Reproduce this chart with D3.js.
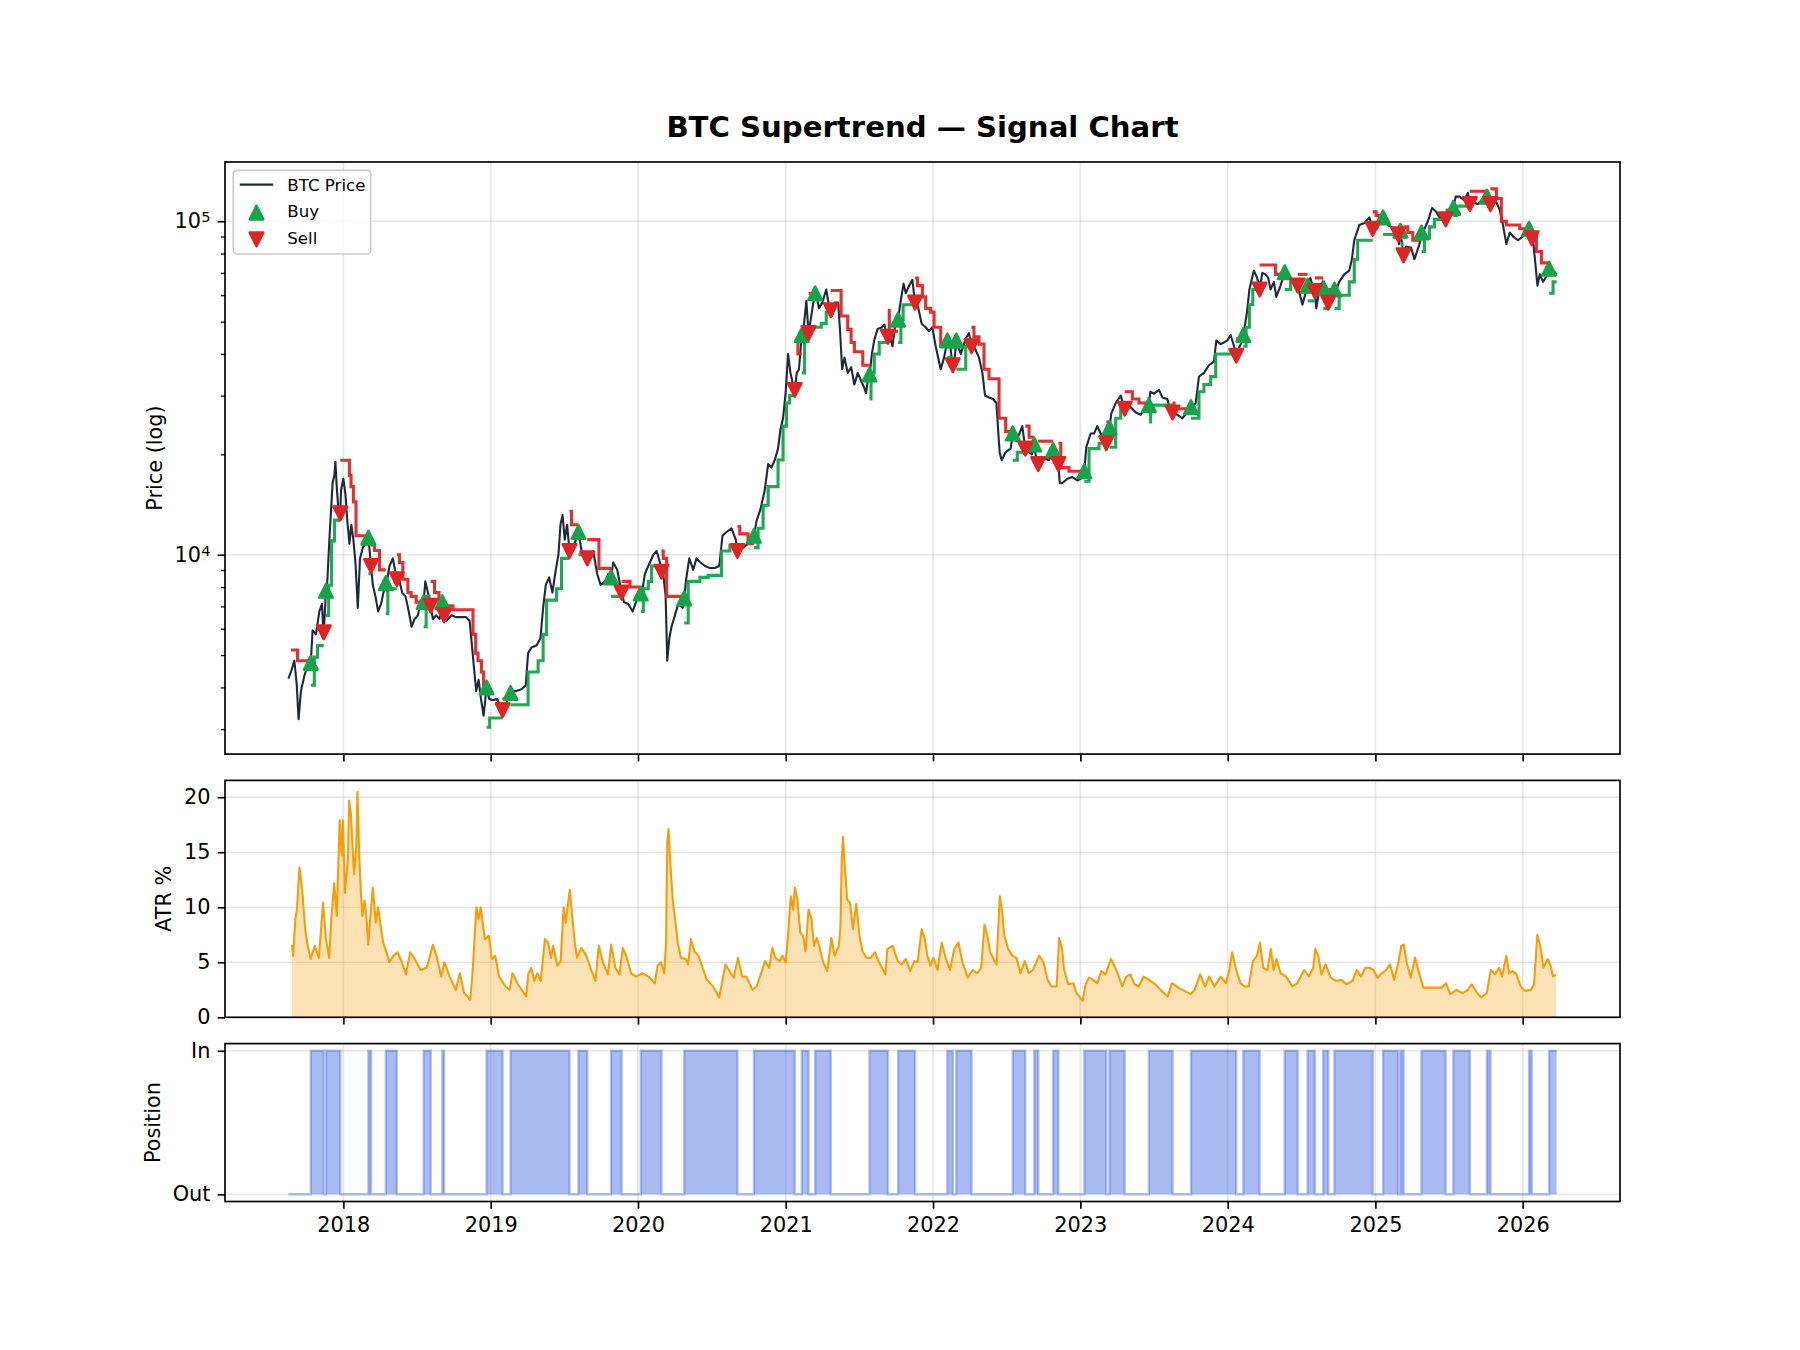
<!DOCTYPE html>
<html>
<head>
<meta charset="utf-8">
<title>BTC Supertrend — Signal Chart</title>
<script src="https://cdn.jsdelivr.net/npm/d3@7/dist/d3.min.js"></script>
<style>
  body { margin: 0; background: #fff; }
  svg { display: block; }
</style>
</head>
<body>
<div id="chart"></div>
<script>
// ---- values (dates as decimal years) ----

// daily close, sampled
const priceT = [
  2017.627, 2017.644, 2017.667, 2017.683, 2017.696, 2017.712, 2017.735, 2017.757, 2017.791, 2017.814,
  2017.837, 2017.855, 2017.864, 2017.89, 2017.905, 2017.927, 2017.939, 2017.946, 2017.955, 2017.968,
  2017.984, 2018.0, 2018.014, 2018.027, 2018.041, 2018.054, 2018.068, 2018.082, 2018.098, 2018.113,
  2018.132, 2018.15, 2018.2, 2018.218, 2018.236, 2018.256, 2018.272, 2018.3, 2018.313, 2018.336,
  2018.376, 2018.399, 2018.422, 2018.444, 2018.463, 2018.483, 2018.506, 2018.528, 2018.556, 2018.574,
  2018.608, 2018.63, 2018.653, 2018.698, 2018.732, 2018.766, 2018.8, 2018.834, 2018.857, 2018.873,
  2018.887, 2018.902, 2018.918, 2018.934, 2018.952, 2018.989, 2019.016, 2019.043, 2019.06, 2019.107,
  2019.16, 2019.175, 2019.209, 2019.238, 2019.254, 2019.277, 2019.311, 2019.338, 2019.356, 2019.374,
  2019.397, 2019.419, 2019.442, 2019.46, 2019.474, 2019.488, 2019.503, 2019.519, 2019.56, 2019.617,
  2019.639, 2019.696, 2019.723, 2019.746, 2019.776, 2019.8, 2019.832, 2019.859, 2019.905, 2019.934,
  2019.964, 2019.991, 2020.035, 2020.047, 2020.07, 2020.104, 2020.126, 2020.149, 2020.171, 2020.187,
  2020.198, 2020.212, 2020.227, 2020.25, 2020.273, 2020.302, 2020.324, 2020.347, 2020.374, 2020.396,
  2020.423, 2020.453, 2020.486, 2020.52, 2020.55, 2020.572, 2020.599, 2020.633, 2020.662, 2020.712,
  2020.745, 2020.77, 2020.802, 2020.829, 2020.858, 2020.881, 2020.903, 2020.926, 2020.948, 2020.964,
  2020.982, 2021.0, 2021.016, 2021.032, 2021.05, 2021.075, 2021.09, 2021.122, 2021.14, 2021.17,
  2021.185, 2021.212, 2021.225, 2021.248, 2021.275, 2021.297, 2021.315, 2021.333, 2021.356, 2021.369,
  2021.383, 2021.399, 2021.421, 2021.444, 2021.466, 2021.489, 2021.511, 2021.534, 2021.545, 2021.556,
  2021.585, 2021.601, 2021.624, 2021.653, 2021.67, 2021.685, 2021.71, 2021.725, 2021.748, 2021.776,
  2021.8, 2021.815, 2021.838, 2021.86, 2021.87, 2021.895, 2021.923, 2021.95, 2021.973, 2021.995,
  2022.018, 2022.052, 2022.075, 2022.115, 2022.145, 2022.188, 2022.222, 2022.244, 2022.278, 2022.312,
  2022.335, 2022.353, 2022.38, 2022.407, 2022.43, 2022.452, 2022.466, 2022.493, 2022.527, 2022.566,
  2022.606, 2022.652, 2022.672, 2022.7, 2022.753, 2022.787, 2022.83, 2022.86, 2022.878, 2022.912,
  2022.946, 2022.98, 2023.002, 2023.04, 2023.07, 2023.093, 2023.115, 2023.138, 2023.16, 2023.19,
  2023.21, 2023.24, 2023.274, 2023.32, 2023.342, 2023.376, 2023.41, 2023.443, 2023.475, 2023.5,
  2023.534, 2023.557, 2023.59, 2023.613, 2023.658, 2023.692, 2023.726, 2023.783, 2023.805, 2023.839,
  2023.873, 2023.907, 2023.923, 2023.952, 2023.975, 2023.998, 2024.02, 2024.043, 2024.075, 2024.09,
  2024.131, 2024.147, 2024.177, 2024.2, 2024.235, 2024.255, 2024.275, 2024.29, 2024.313, 2024.329,
  2024.358, 2024.415, 2024.449, 2024.506, 2024.56, 2024.574, 2024.6, 2024.619, 2024.66, 2024.7,
  2024.74, 2024.755, 2024.789, 2024.823, 2024.841, 2024.857, 2024.891, 2024.925, 2024.959, 2025.01,
  2025.027, 2025.07, 2025.084, 2025.107, 2025.129, 2025.16, 2025.18, 2025.209, 2025.243, 2025.265,
  2025.299, 2025.333, 2025.356, 2025.385, 2025.413, 2025.435, 2025.455, 2025.503, 2025.545, 2025.571,
  2025.605, 2025.628, 2025.662, 2025.696, 2025.73, 2025.765, 2025.798, 2025.821, 2025.844, 2025.866,
  2025.889, 2025.912, 2025.934, 2025.968, 2026.002, 2026.025, 2026.07, 2026.088, 2026.1, 2026.116,
  2026.138, 2026.161, 2026.195, 2026.218, 2026.23
];
const priceV = [
  4250, 4450, 4810, 4110, 3210, 3900, 4330, 4680, 5930, 5770,
  6760, 7120, 5930, 8110, 11100, 16400, 17300, 19000, 16000, 13300,
  15600, 16900, 15200, 12600, 10800, 12300, 11100, 9480, 6930, 9750,
  10500, 10800, 8110, 7500, 6760, 7120, 7700, 8550, 9250, 9750,
  8550, 7700, 7500, 6760, 6080, 6410, 6580, 7310, 8320, 7700,
  6410, 6580, 6410, 6330, 6580, 6500, 6500, 6500, 6330, 5340,
  4560, 3900, 4220, 3700, 3290, 3700, 3660, 3700, 3550, 3600,
  3900, 3900, 3950, 4060, 5070, 5270, 5340, 5620, 6930, 8110,
  8550, 7700, 9010, 10000, 12330, 13150, 11100, 12300, 10500, 10260,
  10000, 10260, 8770, 8110, 8320, 8770, 9480, 9010, 7210, 7120,
  6760, 7310, 8110, 8770, 9250, 10000, 10260, 9480, 8770, 7500,
  4810, 5620, 6080, 6580, 7120, 6930, 8320, 9750, 9010, 9750,
  9480, 9250, 9120, 9120, 9250, 11400, 11700, 12000, 11100, 10500,
  10800, 11100, 12600, 13700, 15600, 18700, 18250, 19230, 20800, 23700,
  25650, 30800, 40000, 35100, 32400, 35100, 36000, 48100, 57700, 50700,
  56200, 59300, 54800, 57000, 62400, 54800, 52000, 57000, 57000, 46800,
  36000, 39000, 35100, 36500, 32400, 35100, 33300, 31600, 30500, 33000,
  40000, 44000, 47500, 48100, 49000, 45500, 44500, 42200, 50700, 56000,
  65000, 60800, 64100, 66700, 61000, 56200, 49300, 48100, 46800, 48100,
  42200, 36000, 39000, 42500, 38000, 40000, 44500, 46200, 42200, 39000,
  35100, 30000, 29600, 29300, 28500, 20300, 19200, 20300, 20800, 21900,
  24300, 20300, 20000, 19500, 19500, 19200, 20300, 16400, 16400, 16900,
  17100, 16700, 16900, 21000, 23100, 23100, 24300, 23100, 22400, 22000,
  26500, 28500, 30000, 28500, 27700, 26700, 26300, 27700, 30800, 30400,
  31200, 29600, 29300, 27000, 26300, 25650, 26700, 28500, 34200, 35100,
  37000, 38000, 43900, 42800, 43300, 43900, 45600, 42200, 41600, 43000,
  53400, 62400, 71100, 67600, 70000, 69300, 67600, 62400, 65800, 59300,
  64100, 68400, 65800, 56200, 67600, 64100, 54800, 61700, 59000, 60000,
  63000, 65800, 69300, 71100, 76900, 87700, 97400, 98700, 102700, 95000,
  98700, 102000, 97400, 96200, 94900, 85400, 86000, 84000, 83200, 76900,
  85400, 94900, 100000, 109600, 106700, 102700, 105400, 108200, 118500, 118500,
  115500, 121700, 114000, 112500, 117000, 123000, 114000, 114000, 108200, 97400,
  85400, 92500, 90100, 87700, 90100, 94900, 87700, 73100, 64100, 69300,
  65800, 68400, 71100, 70300, 69300
];

// supertrend band, step points
const stT = [
  2017.644, 2017.689, 2017.779, 2017.803, 2017.825, 2017.867, 2017.882, 2017.9, 2017.92, 2017.94,
  2017.979, 2018.041, 2018.052, 2018.068, 2018.086, 2018.17, 2018.188, 2018.211, 2018.245, 2018.288,
  2018.302, 2018.363, 2018.381, 2018.404, 2018.438, 2018.46, 2018.494, 2018.545, 2018.562, 2018.593,
  2018.619, 2018.649, 2018.672, 2018.684, 2018.744, 2018.88, 2018.898, 2018.914, 2018.937, 2018.952,
  2018.972, 2018.993, 2019.081, 2019.135, 2019.254, 2019.322, 2019.356, 2019.379, 2019.447, 2019.481,
  2019.535, 2019.549, 2019.596, 2019.656, 2019.735, 2019.817, 2019.889, 2019.946, 2020.019, 2020.036,
  2020.07, 2020.092, 2020.159, 2020.171, 2020.194, 2020.313, 2020.34, 2020.419, 2020.475, 2020.565,
  2020.622, 2020.673, 2020.689, 2020.745, 2020.785, 2020.813, 2020.847, 2020.881, 2020.948, 2020.982,
  2021.005, 2021.027, 2021.061, 2021.083, 2021.109, 2021.128, 2021.155, 2021.2, 2021.241, 2021.275,
  2021.306, 2021.376, 2021.421, 2021.444, 2021.466, 2021.523, 2021.569, 2021.579, 2021.601, 2021.635,
  2021.694, 2021.703, 2021.763, 2021.782, 2021.797, 2021.878, 2021.894, 2021.928, 2021.95, 2021.984,
  2022.007, 2022.052, 2022.097, 2022.134, 2022.158, 2022.222, 2022.261, 2022.278, 2022.312, 2022.346,
  2022.38, 2022.448, 2022.493, 2022.541, 2022.572, 2022.626, 2022.652, 2022.687, 2022.714, 2022.815,
  2022.851, 2022.867, 2022.923, 2023.027, 2023.059, 2023.127, 2023.176, 2023.198, 2023.24, 2023.274,
  2023.301, 2023.353, 2023.398, 2023.465, 2023.477, 2023.626, 2023.636, 2023.751, 2023.805, 2023.839,
  2023.885, 2023.919, 2024.058, 2024.106, 2024.125, 2024.147, 2024.17, 2024.216, 2024.324, 2024.386,
  2024.426, 2024.474, 2024.541, 2024.59, 2024.647, 2024.681, 2024.723, 2024.755, 2024.823, 2024.857,
  2024.88, 2024.982, 2025.005, 2025.052, 2025.155, 2025.17, 2025.191, 2025.22, 2025.254, 2025.313,
  2025.333, 2025.367, 2025.401, 2025.477, 2025.529, 2025.55, 2025.641, 2025.757, 2025.781, 2025.821,
  2025.855, 2025.889, 2025.98, 2026.043, 2026.061, 2026.093, 2026.127, 2026.179, 2026.206
];
const stV = [
  5180, 4810, 4060, 4930, 5340, 7300, 6580, 8100, 11000, 12700,
  19200, 17300, 16000, 14400, 11400, 8770, 10700, 10300, 9010, 6660,
  7910, 10000, 9480, 8440, 7700, 7500, 7210, 6080, 7500, 8320,
  7700, 7030, 6760, 7030, 6840, 5770, 5070, 4810, 4450, 4000,
  3040, 3240, 3700, 3550, 4450, 4810, 5770, 7310, 7910, 9750,
  13500, 12300, 10000, 11100, 9100, 7500, 8320, 8000, 6760, 7910,
  8320, 9250, 10260, 9750, 7500, 6240, 8320, 8550, 8670, 10260,
  10670, 12150, 11550, 10800, 10500, 12000, 14070, 16000, 19230, 24300,
  28500, 30000, 43900, 40000, 35100, 45600, 60800, 48100, 49300, 53400,
  62000, 52000, 47400, 43300, 40600, 37000, 29300, 35100, 40000, 43300,
  54100, 46800, 43300, 50700, 56200, 67600, 64100, 59300, 54800, 53400,
  48100, 42200, 39000, 42200, 36000, 42200, 48100, 45000, 42800, 36000,
  33700, 25650, 23400, 19200, 20300, 24300, 22500, 19500, 21900, 19200,
  21600, 18250, 17800, 16600, 20800, 21600, 25000, 21000, 25650, 28000,
  30800, 29300, 28500, 25000, 28100, 28500, 27400, 25650, 30800, 32400,
  34200, 40000, 44500, 42200, 48100, 56200, 62400, 73900, 69300, 62400,
  65800, 69300, 57700, 67600, 54800, 62400, 54800, 60000, 65800, 76900,
  87700, 106700, 104000, 91300, 96200, 85400, 96200, 92500, 87700, 81100,
  88900, 96200, 101300, 108000, 104000, 111000, 123000, 111000, 125000, 117000,
  100000, 97400, 94900, 91300, 90100, 81100, 75000, 60800, 65800
];

// signals
const buyT = [
  2017.779, 2017.882, 2018.17, 2018.288, 2018.545, 2018.672, 2018.972, 2019.135, 2019.596, 2019.817,
  2020.019, 2020.313, 2020.785, 2021.109, 2021.2, 2021.569, 2021.763, 2022.097, 2022.158, 2022.541,
  2022.687, 2022.815, 2023.027, 2023.198, 2023.465, 2023.751, 2024.106, 2024.386, 2024.541, 2024.647,
  2024.723, 2025.052, 2025.17, 2025.313, 2025.529, 2025.757, 2026.043, 2026.179
];
const buyV = [
  4740, 7800, 11250, 8220, 7210, 7210, 4000, 3850, 11700, 8550,
  7650, 7400, 11400, 45600, 60800, 34700, 50700, 43900, 43900, 23100,
  21400, 20600, 17800, 24000, 28100, 27700, 45600, 70300, 64100, 63200,
  62400, 102700, 93700, 92500, 109600, 118500, 94900, 72100
];
const sellT = [
  2017.867, 2017.979, 2018.188, 2018.363, 2018.593, 2018.684, 2019.081, 2019.535, 2019.656, 2019.889,
  2020.159, 2020.673, 2021.061, 2021.155, 2021.306, 2021.694, 2021.878, 2022.134, 2022.261, 2022.626,
  2022.714, 2022.851, 2023.176, 2023.301, 2023.626, 2024.058, 2024.216, 2024.474, 2024.59, 2024.681,
  2024.982, 2025.155, 2025.191, 2025.477, 2025.641, 2025.781, 2026.061
];
const sellV = [
  5850, 13300, 9250, 8440, 7030, 6580, 3420, 10260, 9750, 7700,
  8890, 10260, 31200, 46200, 54100, 45000, 57000, 37000, 42200, 20800,
  18700, 18700, 21600, 27400, 26700, 39500, 62400, 64100, 61700, 57000,
  94900, 91300, 79000, 101300, 112500, 112500, 88900
];

// ATR as % of price
const atrT = [
  2017.651, 2017.659, 2017.674, 2017.685, 2017.702, 2017.721, 2017.741, 2017.758, 2017.778, 2017.806,
  2017.834, 2017.862, 2017.882, 2017.904, 2017.918, 2017.938, 2017.955, 2017.975, 2017.989, 2017.997,
  2018.011, 2018.031, 2018.039, 2018.051, 2018.062, 2018.073, 2018.087, 2018.096, 2018.107, 2018.118,
  2018.129, 2018.144, 2018.158, 2018.169, 2018.18, 2018.2, 2018.22, 2018.236, 2018.256, 2018.27,
  2018.293, 2018.312, 2018.341, 2018.369, 2018.397, 2018.425, 2018.453, 2018.481, 2018.524, 2018.566,
  2018.608, 2018.636, 2018.664, 2018.687, 2018.721, 2018.763, 2018.791, 2018.819, 2018.861, 2018.875,
  2018.889, 2018.903, 2018.918, 2018.932, 2018.946, 2018.96, 2018.988, 2019.008, 2019.03, 2019.058,
  2019.1, 2019.129, 2019.148, 2019.185, 2019.241, 2019.255, 2019.275, 2019.297, 2019.317, 2019.34,
  2019.368, 2019.39, 2019.41, 2019.424, 2019.452, 2019.475, 2019.495, 2019.509, 2019.537, 2019.551,
  2019.571, 2019.587, 2019.616, 2019.649, 2019.677, 2019.711, 2019.734, 2019.762, 2019.796, 2019.818,
  2019.846, 2019.874, 2019.897, 2019.925, 2019.953, 2019.987, 2020.029, 2020.071, 2020.114, 2020.133,
  2020.156, 2020.178, 2020.19, 2020.198, 2020.207, 2020.218, 2020.235, 2020.254, 2020.269, 2020.291,
  2020.325, 2020.339, 2020.359, 2020.381, 2020.409, 2020.437, 2020.466, 2020.508, 2020.55, 2020.564,
  2020.592, 2020.62, 2020.648, 2020.677, 2020.705, 2020.733, 2020.775, 2020.803, 2020.831, 2020.86,
  2020.888, 2020.91, 2020.93, 2020.958, 2020.978, 2021.0, 2021.014, 2021.034, 2021.051, 2021.062,
  2021.079, 2021.099, 2021.118, 2021.135, 2021.155, 2021.175, 2021.192, 2021.211, 2021.231, 2021.254,
  2021.282, 2021.31, 2021.332, 2021.361, 2021.372, 2021.38, 2021.389, 2021.4, 2021.417, 2021.437,
  2021.456, 2021.479, 2021.501, 2021.521, 2021.549, 2021.577, 2021.605, 2021.634, 2021.676, 2021.69,
  2021.726, 2021.76, 2021.788, 2021.816, 2021.845, 2021.873, 2021.895, 2021.923, 2021.943, 2021.961,
  2021.983, 2022.003, 2022.031, 2022.059, 2022.087, 2022.115, 2022.144, 2022.172, 2022.2, 2022.236,
  2022.27, 2022.298, 2022.327, 2022.349, 2022.369, 2022.389, 2022.411, 2022.431, 2022.453, 2022.467,
  2022.484, 2022.51, 2022.538, 2022.566, 2022.594, 2022.622, 2022.65, 2022.678, 2022.721, 2022.749,
  2022.777, 2022.805, 2022.839, 2022.856, 2022.876, 2022.89, 2022.918, 2022.952, 2022.974, 2023.016,
  2023.036, 2023.059, 2023.087, 2023.115, 2023.143, 2023.171, 2023.208, 2023.227, 2023.256, 2023.284,
  2023.312, 2023.34, 2023.368, 2023.396, 2023.43, 2023.467, 2023.509, 2023.551, 2023.593, 2023.622,
  2023.664, 2023.706, 2023.748, 2023.776, 2023.813, 2023.847, 2023.875, 2023.909, 2023.954, 2023.988,
  2024.01, 2024.03, 2024.058, 2024.086, 2024.114, 2024.142, 2024.171, 2024.199, 2024.218, 2024.241,
  2024.269, 2024.292, 2024.311, 2024.331, 2024.359, 2024.396, 2024.438, 2024.472, 2024.517, 2024.551,
  2024.579, 2024.593, 2024.613, 2024.635, 2024.663, 2024.697, 2024.734, 2024.77, 2024.804, 2024.846,
  2024.874, 2024.903, 2024.931, 2024.959, 2024.987, 2025.015, 2025.043, 2025.072, 2025.1, 2025.128,
  2025.156, 2025.176, 2025.193, 2025.212, 2025.24, 2025.269, 2025.297, 2025.325, 2025.367, 2025.409,
  2025.452, 2025.48, 2025.508, 2025.55, 2025.592, 2025.626, 2025.654, 2025.691, 2025.719, 2025.756,
  2025.784, 2025.812, 2025.84, 2025.86, 2025.889, 2025.908, 2025.93, 2025.958, 2025.986, 2026.015,
  2026.057, 2026.077, 2026.099, 2026.119, 2026.141, 2026.17, 2026.189, 2026.206, 2026.226
];
const atrV = [
  6.6, 5.6, 8.9, 9.8, 13.6, 11.5, 8.0, 6.5, 5.3, 6.5,
  5.4, 10.4, 7.1, 5.4, 8.9, 12.2, 9.2, 17.9, 14.7, 17.9,
  11.3, 14.4, 19.7, 18.5, 15.6, 13.0, 15.3, 20.5, 15.0, 11.6,
  9.2, 10.6, 8.9, 6.6, 8.6, 11.8, 8.6, 10.0, 8.0, 6.8,
  5.9, 5.0, 5.6, 5.9, 5.0, 3.9, 5.9, 5.4, 4.3, 4.5,
  6.6, 5.4, 3.7, 5.0, 3.7, 2.5, 4.0, 2.2, 1.6, 3.7,
  6.8, 10.0, 8.9, 10.0, 8.6, 7.1, 7.4, 5.3, 5.6, 3.7,
  2.8, 2.5, 4.0, 3.0, 1.9, 3.9, 4.5, 3.3, 4.0, 3.3,
  7.1, 6.8, 5.4, 6.5, 4.7, 5.1, 10.0, 8.6, 11.6, 9.5,
  6.8, 5.4, 6.3, 5.6, 4.5, 3.3, 6.5, 5.0, 3.9, 6.6,
  4.5, 3.9, 6.3, 5.4, 4.0, 3.7, 4.0, 3.7, 3.1, 4.7,
  5.0, 4.0, 6.8, 15.9, 17.1, 14.1, 10.7, 8.6, 6.8, 5.4,
  5.3, 4.8, 7.1, 6.0, 5.6, 4.5, 3.4, 2.8, 1.8, 2.8,
  4.8, 4.2, 3.6, 5.4, 3.7, 3.7, 2.5, 2.8, 3.9, 5.1,
  4.5, 6.3, 5.4, 5.1, 5.6, 5.0, 7.1, 11.0, 9.8, 11.8,
  10.7, 7.7, 7.4, 6.0, 9.8, 8.9, 6.5, 7.2, 6.3, 5.0,
  4.2, 7.2, 5.6, 6.5, 8.3, 14.2, 16.4, 13.9, 10.7, 10.4,
  8.0, 10.3, 7.4, 6.0, 5.4, 5.4, 5.9, 5.0, 3.9, 6.2,
  6.5, 5.1, 4.8, 5.3, 4.2, 5.1, 5.0, 8.0, 7.2, 5.6,
  4.7, 5.4, 4.3, 6.8, 5.3, 4.3, 6.2, 6.8, 5.0, 3.6,
  4.3, 4.0, 4.5, 8.4, 7.4, 5.9, 5.3, 4.8, 11.0, 9.8,
  7.4, 6.2, 5.6, 5.4, 4.0, 5.1, 4.0, 4.3, 5.6, 5.0,
  3.4, 2.8, 2.8, 7.2, 6.2, 4.3, 3.0, 3.1, 2.2, 1.5,
  3.0, 3.6, 3.4, 3.1, 4.2, 3.9, 5.3, 4.8, 3.9, 2.8,
  3.7, 3.9, 3.0, 2.8, 3.7, 3.4, 3.0, 2.4, 1.9, 3.1,
  2.7, 2.4, 2.1, 2.5, 3.9, 2.8, 3.7, 2.8, 3.7, 3.1,
  4.2, 5.9, 4.3, 3.1, 2.8, 2.8, 5.1, 5.6, 6.8, 4.5,
  4.3, 6.2, 4.3, 5.3, 4.0, 3.7, 2.8, 3.1, 4.3, 3.7,
  4.5, 6.2, 5.6, 3.9, 4.8, 3.6, 3.3, 3.4, 3.0, 3.3,
  4.3, 3.7, 4.5, 4.5, 4.3, 3.6, 4.0, 4.3, 4.8, 3.4,
  5.0, 6.5, 6.6, 5.0, 3.6, 5.4, 4.0, 2.7, 2.7, 2.7,
  2.7, 3.1, 2.1, 2.5, 2.2, 2.5, 3.0, 2.2, 1.8, 2.2,
  4.3, 3.9, 4.5, 3.7, 5.6, 4.0, 4.2, 3.9, 2.8, 2.4,
  2.5, 3.0, 7.5, 6.5, 4.5, 5.3, 4.7, 3.7, 3.9
];

// ticks and text
const yearTicks = [2018, 2019, 2020, 2021, 2022, 2023, 2024, 2025, 2026];
const priceTicks = [1e4, 1e5];
const atrTicks = [0, 5, 10, 15, 20];
const posTicks = [0, 1];
const posTickLabels = ["Out", "In"];
const legendLabels = ["BTC Price", "Buy", "Sell"];
const titleText = "BTC Supertrend \u2014 Signal Chart";

// ---- layout & style ----
const W = 1800, H = 1350;
const L = 225, R = 1620;
const P = { price: [162, 754.1], atr: [780.4, 1017.3], pos: [1043.6, 1201.5] };
const FONT = "'DejaVu Sans', sans-serif";
const FS = 20.83, TICK = 7.3, PAD = 7.3, SPINE = 1.67;
const C = { price: "#1e293b", up: "#16a34a", down: "#dc2626", atr: "#f59e0b", pos: "#4169e1", grid: "#b0b0b0" };

const last = a => a[a.length - 1];
const toDate = y => {
  const Y = Math.floor(y), a = Date.UTC(Y, 0, 1), b = Date.UTC(Y + 1, 0, 1);
  return new Date(a + (y - Y) * (b - a));
};

// merged price series (signal closes are points of the same line)
const pricePts = priceT.map((t, i) => ({ t, v: priceV[i] }))
  .concat(buyT.map((t, i) => ({ t, v: buyV[i] })), sellT.map((t, i) => ({ t, v: sellV[i] })))
  .sort((a, b) => a.t - b.t);

const sigs = buyT.map(t => ({ t, v: 1 })).concat(sellT.map(t => ({ t, v: 0 }))).sort((a, b) => a.t - b.t);
const posAt = t => { let v = 0; for (const s of sigs) { if (s.t <= t + 1e-9) v = s.v; else break; } return v; };
const posPts = [{ t: priceT[0], v: 0 }].concat(sigs, [{ t: last(priceT), v: last(sigs).v }]);

// supertrend split into runs by trend direction
const stSegs = [];
stT.forEach((t, i) => {
  const s = posAt(t);
  if (!stSegs.length || last(stSegs).s !== s) stSegs.push({ s, pts: [] });
  last(stSegs).pts.push({ t, v: stV[i] });
});
stSegs.forEach((seg, k) => {
  const endT = k + 1 < stSegs.length ? stSegs[k + 1].pts[0].t : last(priceT);
  seg.pts.push({ t: endT, v: last(seg.pts).v });
});

// ---- scales ----
const t0 = toDate(priceT[0]), t1 = toDate(last(priceT)), span = t1 - t0;
const x = d3.scaleUtc().domain([new Date(+t0 - 0.05 * span), new Date(+t1 + 0.05 * span)]).range([L, R]);

const allP = priceV.concat(stV, buyV, sellV);
const lo = Math.log10(d3.min(allP)), hi = Math.log10(d3.max(allP)), lm = (hi - lo) * 0.05;
const yP = d3.scaleLog().domain([10 ** (lo - lm), 10 ** (hi + lm)]).range([P.price[1], P.price[0]]);
const yA = d3.scaleLinear().domain([0, d3.max(atrV) * 1.05]).range([P.atr[1], P.atr[0]]);
const yS = d3.scaleLinear().domain([-0.05, 1.05]).range([P.pos[1], P.pos[0]]);

const X = d => x(toDate(d.t));
const yearDates = yearTicks.map(y => new Date(Date.UTC(y, 0, 1)));

// ---- svg ----
const svg = d3.select("#chart").append("svg")
  .attr("width", W).attr("height", H).attr("viewBox", [0, 0, W, H])
  .attr("font-family", FONT);
svg.append("rect").attr("width", W).attr("height", H).attr("fill", "#fff");
const defs = svg.append("defs");
const gridLayer = svg.append("g");
const dataLayer = svg.append("g");
const frameLayer = svg.append("g");

Object.entries(P).forEach(([k, [y0, y1]]) => {
  defs.append("clipPath").attr("id", "clip-" + k).append("rect")
    .attr("x", L).attr("y", y0).attr("width", R - L).attr("height", y1 - y0);
});

function grid(key, yScale, yVals) {
  const [y0, y1] = P[key];
  const g = gridLayer.append("g")
    .attr("stroke", C.grid).attr("stroke-opacity", 0.3).attr("stroke-width", SPINE);
  g.selectAll("line.gx").data(yearDates).join("line").attr("class", "gx")
    .attr("x1", d => x(d)).attr("x2", d => x(d)).attr("y1", y0).attr("y2", y1);
  g.selectAll("line.gy").data(yVals).join("line").attr("class", "gy")
    .attr("x1", L).attr("x2", R).attr("y1", d => yScale(d)).attr("y2", d => yScale(d));
}

function styleAxis(g, w) {
  g.attr("font-family", FONT);
  g.select(".domain").remove();
  g.selectAll(".tick line").attr("stroke", "#000").attr("stroke-width", w);
  g.selectAll(".tick text").attr("fill", "#000").attr("font-size", FS);
}

function frame(key, yScale, yVals, fmt, label, opts = {}) {
  const [y0, y1] = P[key];
  const gy = frameLayer.append("g").attr("transform", `translate(${L},0)`)
    .call(d3.axisLeft(yScale).tickValues(yVals).tickSize(TICK).tickPadding(PAD).tickFormat(fmt));
  styleAxis(gy, SPINE);
  if (opts.decorate) opts.decorate(gy);
  if (opts.minor) {
    const gm = frameLayer.append("g").attr("transform", `translate(${L},0)`)
      .call(d3.axisLeft(yScale).tickValues(opts.minor).tickSize(4.2).tickFormat(""));
    styleAxis(gm, 1.25);
  }
  const gx = frameLayer.append("g").attr("transform", `translate(0,${y1})`)
    .call(d3.axisBottom(x).tickValues(yearDates).tickSize(TICK).tickPadding(PAD)
      .tickFormat(opts.years ? d3.utcFormat("%Y") : ""));
  styleAxis(gx, SPINE);
  gx.selectAll(".tick text").attr("dy", "0.76em");

  frameLayer.append("rect").attr("x", L).attr("y", y0).attr("width", R - L).attr("height", y1 - y0)
    .attr("fill", "none").attr("stroke", "#000").attr("stroke-width", SPINE);

  // label sits left of the widest tick label (bbox is in the axis group's own coordinates)
  const bb = gy.node().getBBox();
  frameLayer.append("text")
    .attr("transform", `translate(${L + bb.x - 8.33 - 4.3},${(y0 + y1) / 2}) rotate(-90)`)
    .attr("text-anchor", "middle").attr("font-size", FS).attr("fill", "#000")
    .text(label);
}

// ---- price panel ----
grid("price", yP, priceTicks);
const gPrice = dataLayer.append("g").attr("clip-path", "url(#clip-price)");

gPrice.append("path").datum(pricePts)
  .attr("fill", "none").attr("stroke", C.price).attr("stroke-width", 2.1)
  .attr("stroke-linejoin", "round")
  .attr("d", d3.line().x(X).y(d => yP(d.v)));

const stepLine = d3.line().curve(d3.curveStepAfter).x(X).y(d => yP(d.v));
gPrice.selectAll("path.st").data(stSegs).join("path").attr("class", "st")
  .attr("fill", "none").attr("stroke", d => d.s ? C.up : C.down)
  .attr("stroke-width", 3.1).attr("stroke-opacity", 0.95)
  .attr("d", d => stepLine(d.pts));

const triUp = s => `M0,${-s / 2}L${s / 2},${s / 2}L${-s / 2},${s / 2}Z`;
const triDown = s => `M0,${s / 2}L${s / 2},${-s / 2}L${-s / 2},${-s / 2}Z`;
const MS = 13.5;

gPrice.selectAll("path.buy").data(buyT.map((t, i) => ({ t, v: buyV[i] }))).join("path")
  .attr("class", "buy").attr("d", triUp(MS))
  .attr("transform", d => `translate(${X(d)},${yP(d.v)})`)
  .attr("fill", C.up).attr("stroke", C.up).attr("stroke-width", 2.6).attr("stroke-linejoin", "round");
gPrice.selectAll("path.sell").data(sellT.map((t, i) => ({ t, v: sellV[i] }))).join("path")
  .attr("class", "sell").attr("d", triDown(MS))
  .attr("transform", d => `translate(${X(d)},${yP(d.v)})`)
  .attr("fill", C.down).attr("stroke", C.down).attr("stroke-width", 2.6).attr("stroke-linejoin", "round");

const minorP = yP.ticks().filter(v => Math.abs(Math.log10(v) - Math.round(Math.log10(v))) > 1e-6);
frame("price", yP, priceTicks, () => "", "Price (log)", {
  minor: minorP,
  decorate: g => g.selectAll(".tick text").each(function (d) {
    const t = d3.select(this);
    t.text("10");
    t.append("tspan").attr("dy", "-0.42em").attr("font-size", FS * 0.7).text(Math.round(Math.log10(d)));
  })
});

// ---- ATR panel ----
grid("atr", yA, atrTicks);
const gAtr = dataLayer.append("g").attr("clip-path", "url(#clip-atr)");
const atrPts = atrT.map((t, i) => ({ t, v: atrV[i] }));
gAtr.append("path").datum(atrPts)
  .attr("fill", C.atr).attr("fill-opacity", 0.3)
  .attr("d", d3.area().x(X).y0(yA(0)).y1(d => yA(d.v)));
gAtr.append("path").datum(atrPts)
  .attr("fill", "none").attr("stroke", C.atr).attr("stroke-width", 2.1).attr("stroke-linejoin", "round")
  .attr("d", d3.line().x(X).y(d => yA(d.v)));
frame("atr", yA, atrTicks, d3.format("d"), "ATR %");

// ---- position panel ----
grid("pos", yS, posTicks);
const gPos = dataLayer.append("g").attr("clip-path", "url(#clip-pos)");
gPos.append("path").datum(posPts)
  .attr("fill", C.pos).attr("fill-opacity", 0.45)
  .attr("d", d3.area().curve(d3.curveStepAfter).x(X).y0(yS(0)).y1(d => yS(d.v)));
gPos.append("path").datum(posPts)
  .attr("fill", "none").attr("stroke", C.pos).attr("stroke-opacity", 0.4).attr("stroke-width", 2.4)
  .attr("d", d3.line().curve(d3.curveStepAfter).x(X).y(d => yS(d.v)));
frame("pos", yS, posTicks, (d, i) => posTickLabels[i], "Position", { years: true });

// ---- title ----
svg.append("text").attr("x", (L + R) / 2).attr("y", 137).attr("text-anchor", "middle")
  .attr("font-size", 29.17).attr("font-weight", "bold").attr("fill", "#000").text(titleText);

// ---- legend ----
const lg = svg.append("g").attr("font-size", 16.67).attr("fill", "#000");
lg.append("rect").attr("x", 233.3).attr("y", 170.3).attr("width", 137.4).attr("height", 83.7)
  .attr("rx", 3.5).attr("fill", "#fff").attr("fill-opacity", 0.8)
  .attr("stroke", "#cccccc").attr("stroke-width", 1.67);
lg.append("line").attr("x1", 239.8).attr("x2", 273.2).attr("y1", 184.6).attr("y2", 184.6)
  .attr("stroke", C.price).attr("stroke-width", 2.1);
lg.append("path").attr("d", triUp(MS)).attr("transform", "translate(256.5,212.6)")
  .attr("fill", C.up).attr("stroke", C.up).attr("stroke-width", 2.6).attr("stroke-linejoin", "round");
lg.append("path").attr("d", triDown(MS)).attr("transform", "translate(256.5,239.3)")
  .attr("fill", C.down).attr("stroke", C.down).attr("stroke-width", 2.6).attr("stroke-linejoin", "round");
lg.selectAll("text").data(legendLabels).join("text")
  .attr("x", 287.3).attr("y", (d, i) => [190.7, 217.2, 244.3][i]).text(d => d);
</script>
</body>
</html>
